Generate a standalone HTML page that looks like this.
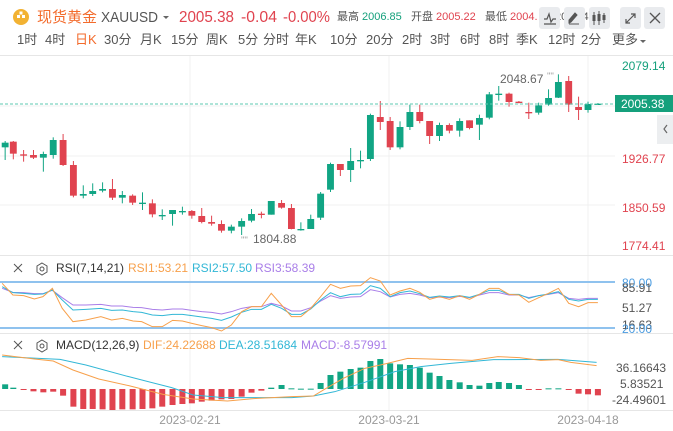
<!DOCTYPE html>
<html><head><meta charset="utf-8">
<style>
body{margin:0;width:673px;height:431px;overflow:hidden;background:#fff;font-family:"Liberation Sans","Noto Sans CJK SC",sans-serif;}
svg{position:absolute;left:0;top:0}
</style></head><body>
<svg width="673" height="431" viewBox="0 0 673 431" font-family="Liberation Sans, Noto Sans CJK SC, sans-serif">
<rect x="0" y="0" width="673" height="431" fill="#fff"/>
<!-- header -->
<circle cx="21" cy="17" r="8" fill="#f2b233"/>
<rect x="17" y="15" width="3" height="3" fill="#fff"/><rect x="22" y="15" width="3" height="3" fill="#fff"/><rect x="19.5" y="11.5" width="3" height="3" fill="#fff"/>
<text x="37" y="22" font-size="15" fill="#f36b2c">现货黄金</text>
<text x="101" y="22" font-size="15" fill="#555" textLength="57" lengthAdjust="spacingAndGlyphs">XAUUSD</text>
<path d="M163 16 l6 0 l-3 3z" fill="#666"/>
<text x="179" y="22" font-size="16" fill="#e0434f" textLength="55" lengthAdjust="spacingAndGlyphs">2005.38</text>
<text x="241" y="22" font-size="16" fill="#e0434f" textLength="36" lengthAdjust="spacingAndGlyphs">-0.04</text>
<text x="283" y="22" font-size="16" fill="#e0434f" textLength="47" lengthAdjust="spacingAndGlyphs">-0.00%</text>
<text x="337" y="20" font-size="11" fill="#555">最高</text>
<text x="362" y="20" font-size="11" fill="#15a07c">2006.85</text>
<text x="411" y="20" font-size="11" fill="#555">开盘</text>
<text x="436" y="20" font-size="11" fill="#e0434f">2005.22</text>
<text x="485" y="20" font-size="11" fill="#555">最低</text>
<text x="510" y="20" font-size="11" fill="#e0434f">2004.</text>
<text x="555" y="20" font-size="11" fill="#555">2005.4</text>
<rect x="539" y="7" width="21" height="22" rx="3" fill="#e9ebee"/>
<rect x="564" y="7" width="21" height="22" rx="3" fill="#e9ebee"/>
<rect x="589" y="7" width="21" height="22" rx="3" fill="#e9ebee"/>
<rect x="620" y="7" width="21" height="22" rx="3" fill="#e9ebee"/>
<rect x="644" y="7" width="21" height="22" rx="3" fill="#e9ebee"/>
<path d="M544 19 l3 0 l2 -5 l2 8 l2 -3 l3 0 M544 24 l12 0" stroke="#555" fill="none" stroke-width="1.2"/>
<path d="M569 23 l2 -1 l6 -7 l-2 -2 l-6 7z M569 24 l10 0" stroke="#555" fill="#555" stroke-width="1"/>
<path d="M594 12 v13 M599 11 v14 M604 13 v10" stroke="#555" stroke-width="1"/>
<rect x="592.5" y="15" width="3" height="6" fill="#555"/><rect x="597.5" y="14" width="3" height="7" fill="#555"/><rect x="602.5" y="15" width="3" height="5" fill="#555"/>
<path d="M626 23 l9 -9 M631 14 h4 v4 M626 19 v4 h4" stroke="#555" fill="none" stroke-width="1.2"/>
<path d="M650 13 l10 10 M660 13 l-10 10" stroke="#555" stroke-width="1.3"/>
<g font-size="13" fill="#555">
<text x="17" y="44">1时</text><text x="45" y="44">4时</text><text x="75" y="44" fill="#f36b2c">日K</text>
<text x="104" y="44">30分</text><text x="140" y="44">月K</text><text x="171" y="44">15分</text>
<text x="206" y="44">周K</text><text x="238" y="44">5分</text><text x="263" y="44">分时</text>
<text x="295" y="44">年K</text><text x="330" y="44">10分</text><text x="366" y="44">20分</text>
<text x="402" y="44">2时</text><text x="430" y="44">3时</text><text x="460" y="44">6时</text>
<text x="489" y="44">8时</text><text x="516" y="44">季K</text><text x="548" y="44">12时</text>
<text x="581" y="44">2分</text><text x="612" y="44">更多</text>
</g>
<path d="M640 40 l6 0 l-3 3z" fill="#666"/>
<line x1="0" y1="55.5" x2="673" y2="55.5" stroke="#e6e6e6"/>
<!-- grid -->
<g stroke="#f0f0f0" stroke-width="1">
<line x1="190" y1="56" x2="190" y2="410"/><line x1="389" y1="56" x2="389" y2="410"/><line x1="588" y1="56" x2="588" y2="410"/>
<line x1="0" y1="106" x2="615" y2="106"/><line x1="0" y1="156" x2="615" y2="156"/><line x1="0" y1="205" x2="615" y2="205"/>
</g>
<line x1="0" y1="255.5" x2="673" y2="255.5" stroke="#e6e6e6"/>
<line x1="0" y1="333.5" x2="673" y2="333.5" stroke="#e6e6e6"/>
<line x1="0" y1="410.5" x2="673" y2="410.5" stroke="#e6e6e6"/>
<g id="candles" transform="translate(0,60) scale(0.42921,0.33333)"></g>
<line x1="0" y1="104" x2="615" y2="104" stroke="#5cc9b0" stroke-dasharray="3,2"/>
<text x="500" y="83" font-size="12" fill="#666">2048.67</text>
<text x="547" y="79" font-size="9" fill="#999">''''</text>
<text x="241" y="243" font-size="9" fill="#999">''''</text>
<text x="253" y="243" font-size="12" fill="#666">1804.88</text>
<g font-size="12">
<text x="622" y="70" fill="#15a07c">2079.14</text>
<text x="622" y="163" fill="#e0434f">1926.77</text>
<text x="622" y="212" fill="#e0434f">1850.59</text>
<text x="622" y="250" fill="#e0434f">1774.41</text>
</g>
<rect x="615" y="95" width="58" height="17" fill="#15a07c"/>
<text x="621" y="108" font-size="12" fill="#fff">2005.38</text>
<rect x="657" y="115" width="16" height="29" fill="#eceef0"/>
<path d="M667 125 l-3 4 l3 4" stroke="#666" fill="none" stroke-width="1.2"/>
<!-- RSI -->
<path d="M14 264 l8 8 M22 264 l-8 8" stroke="#555" stroke-width="1"/>
<path d="M42 263 l5 3 v6 l-5 3 l-5 -3 v-6z" stroke="#555" fill="none"/><circle cx="42" cy="269" r="2" stroke="#555" fill="none"/>
<text x="56" y="272" font-size="12" fill="#333">RSI(7,14,21)</text>
<text x="128" y="272" font-size="12" fill="#f7a04b">RSI1:53.21</text>
<text x="192" y="272" font-size="12" fill="#32b7d6">RSI2:57.50</text>
<text x="255" y="272" font-size="12" fill="#a97ee8">RSI3:58.39</text>
<line x1="0" y1="282" x2="615" y2="282" stroke="#8fc2ee" stroke-width="2"/>
<line x1="0" y1="328" x2="615" y2="328" stroke="#8fc2ee" stroke-width="2"/>
<g id="rsi" transform="translate(0,255) scale(0.42921,0.33333)" fill="none"></g>
<g font-size="12" fill="#555">
<text x="622" y="287" fill="#4a9be0">80.00</text>
<text x="622" y="292">85.91</text>
<text x="622" y="312">51.27</text>
<text x="622" y="329">16.63</text>
<text x="622" y="333" fill="#4a9be0">20.00</text>
</g>
<!-- MACD -->
<path d="M14 341 l8 8 M22 341 l-8 8" stroke="#555" stroke-width="1"/>
<path d="M42 340 l5 3 v6 l-5 3 l-5 -3 v-6z" stroke="#555" fill="none"/><circle cx="42" cy="346" r="2" stroke="#555" fill="none"/>
<text x="56" y="349" font-size="12" fill="#333">MACD(12,26,9)</text>
<text x="143" y="349" font-size="12" fill="#f7a04b">DIF:24.22688</text>
<text x="219" y="349" font-size="12" fill="#32b7d6">DEA:28.51684</text>
<text x="301" y="349" font-size="12" fill="#a97ee8">MACD:-8.57991</text>
<g id="macd" transform="translate(0,255) scale(0.42921,0.33333)"></g>
<g font-size="12" fill="#555">
<text x="616" y="372">36.16643</text>
<text x="620" y="388">5.83521</text>
<text x="612" y="404">-24.49601</text>
</g>
<g font-size="12" fill="#999" text-anchor="middle">
<text x="190" y="424">2023-02-21</text><text x="389" y="424">2023-03-21</text><text x="588" y="424">2023-04-18</text>
</g>
</svg>
<script>
var NS="http://www.w3.org/2000/svg",G="#11a584",R="#e0434f";
function el(p,t,a){var e=document.createElementNS(NS,t);for(var k in a)e.setAttribute(k,a[k]);p.appendChild(e);return e;}
var c=[[12,'g',248,262,243,300],[31,'r',245,281,243,298],[55,'r',283,285,270,305],[78,'r',285,293,270,297],[101,'g',282,293,275,335],[124,'g',240,285,232,296],[147,'r',240,315,222,318],[171,'r',315,407,303,412],[194,'g',402,407,376,415],[216,'g',393,402,370,408],[239,'g',387,392,367,397],[262,'r',387,413,357,420],[285,'g',405,413,393,430],[309,'r',407,428,403,435],[332,'g',428,430,397,450],[355,'r',430,463,418,472],[378,'g',465,467,448,480],[402,'g',450,462,450,497],[425,'g',453,456,440,464],[447,'r',453,467,450,476],[470,'r',468,486,444,490],[493,'r',486,491,467,497],[516,'r',492,512,481,518],[539,'g',500,512,494,520],[563,'g',483,500,475,525],[586,'g',462,482,447,487],[609,'r',461,464,455,475],[632,'g',423,464,423,464],[656,'r',429,443,420,446],[679,'r',444,507,432,508],[701,'g',507,509,487,512],[724,'g',477,507,464,507],[747,'g',401,473,396,480],[770,'g',312,389,308,396],[793,'r',312,330,312,348],[817,'g',303,330,264,366],[840,'g',300,302,272,325],[863,'g',165,297,161,303],[886,'r',171,186,123,210],[909,'r',183,262,171,270],[932,'g',201,262,184,268],[955,'g',156,201,134,210],[978,'r',156,183,134,190],[1001,'r',183,228,183,252],[1024,'g',195,228,188,243],[1047,'r',195,212,190,220],[1071,'g',183,212,175,230],[1094,'r',181,204,181,208],[1117,'g',174,194,164,240],[1140,'g',103,173,96,178],[1162,'g',101,104,78,122],[1186,'r',101,126,98,140],[1209,'r',125,128,123,130],[1232,'r',156,158,128,177],[1255,'g',136,158,128,164],[1278,'g',114,134,88,137],[1301,'g',66,113,43,114],[1325,'r',63,134,48,156],[1348,'r',141,150,110,180],[1370,'g',132,150,125,158],[1393,'g',131,133,129,135]];
var cg=document.getElementById('candles');
c.forEach(function(d){var col=d[1]=='g'?G:R;el(cg,'line',{x1:d[0],x2:d[0],y1:d[4],y2:d[5],stroke:col,'stroke-width':1,'vector-effect':'non-scaling-stroke'});el(cg,'rect',{x:d[0]-8,y:d[2],width:16,height:Math.max(d[3]-d[2],4),fill:col});});
function pl(g,pts,col){el(g,'polyline',{points:pts.map(function(p){return p.join(',')}).join(' '),stroke:col,'stroke-width':1,fill:'none','vector-effect':'non-scaling-stroke'});}
var xs=[5,30,55,80,100,122,145,170,200,235,260,285,310,330,355,378,402,425,447,470,493,516,539,563,586,609,632,656,679,701,724,747,770,793,817,840,863,886,909,932,955,978,1001,1024,1047,1071,1094,1117,1140,1162,1186,1209,1232,1255,1278,1301,1325,1348,1370,1393];
var r1=[85,120,122,132,125,100,160,200,195,185,195,190,198,200,215,215,196,198,205,212,218,228,210,170,155,155,115,150,185,185,160,125,88,100,93,92,68,78,120,108,100,112,133,125,133,122,133,118,100,100,118,120,142,128,115,100,145,155,143,143];
var r2=[95,113,115,118,117,105,135,165,163,160,166,165,170,172,180,182,178,178,182,186,190,196,186,172,163,163,148,160,178,178,162,135,113,125,118,117,92,100,125,113,108,116,127,123,126,122,127,118,106,106,118,118,130,122,117,110,133,138,133,133];
var r3=[100,112,113,116,116,106,128,150,150,148,153,153,157,158,163,165,162,162,166,170,172,177,170,160,155,155,145,153,168,168,158,138,122,130,126,125,104,110,126,118,115,120,128,126,128,124,128,120,113,113,120,120,128,122,118,113,130,133,130,130];
var rg=document.getElementById('rsi');
function z(a){return xs.map(function(x,i){return [x,a[i]];});}
pl(rg,z(r3),'#a97ee8');pl(rg,z(r2),'#32b7d6');pl(rg,z(r1),'#f7a04b');
var mg=document.getElementById('macd');
var bars=[[12,388,'g'],[31,398,'g'],[55,404],[78,409],[101,412],[124,410],[147,422],[171,455],[194,462],[216,462],[239,463],[262,465],[285,463],[309,463],[332,462],[355,460],[378,455],[402,450],[425,447],[447,445],[470,440],[493,437],[516,433],[539,432],[563,425],[586,413],[609,407],[632,398,'g'],[656,390,'g'],[679,400,'g'],[701,401,'g'],[724,401,'g'],[747,384,'g'],[770,360,'g'],[793,350,'g'],[817,342,'g'],[840,338,'g'],[863,318,'g'],[886,312,'g'],[909,325,'g'],[932,328,'g'],[955,330,'g'],[978,338,'g'],[1001,353,'g'],[1024,363,'g'],[1047,375,'g'],[1071,382,'g'],[1094,390,'g'],[1117,392,'g'],[1140,384,'g'],[1162,381,'g'],[1186,384,'g'],[1209,390,'g'],[1232,404],[1255,404],[1278,400,'g'],[1301,400,'g'],[1325,405],[1348,416],[1370,418],[1393,421]];
bars.forEach(function(b){var up=b[2]=='g';var y0=up?b[1]:402,y1=up?402:b[1];el(mg,'rect',{x:b[0]-7,y:y0,width:14,height:Math.max(y1-y0,3),fill:up?G:R});});
pl(mg,[[5,305],[140,313],[200,330],[300,365],[400,398],[450,420],[520,428],[600,428],[680,428],[730,423],[780,410],[850,382],[920,350],[980,335],[1050,325],[1150,314],[1300,313],[1390,322]],'#32b7d6');
pl(mg,[[5,300],[80,312],[124,318],[170,345],[230,372],[300,392],[380,418],[450,432],[530,438],[600,430],[680,425],[730,423],[760,400],[800,370],[850,340],[900,326],[950,310],[1000,312],[1100,316],[1160,305],[1210,308],[1260,316],[1300,314],[1330,322],[1390,332]],'#f7a04b');
</script>
</body></html>
